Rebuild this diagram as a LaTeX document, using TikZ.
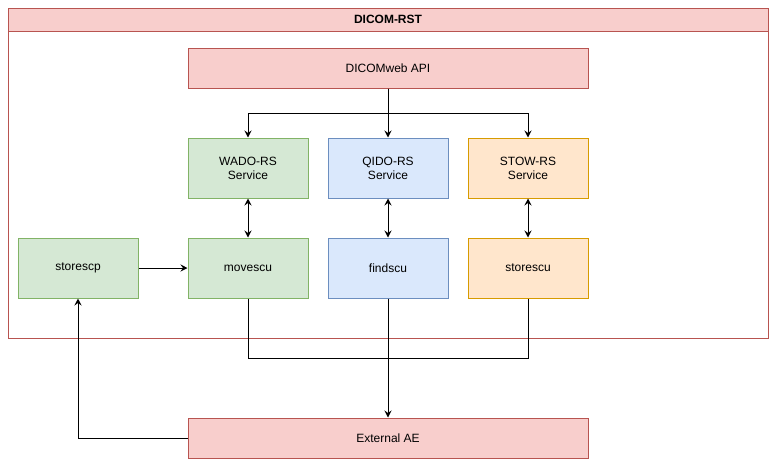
\documentclass[tikz,border=0pt]{standalone}
\usepackage{fontspec}
\setmainfont{Liberation Sans}
\usetikzlibrary{arrows.meta}
\definecolor{redF}{HTML}{F8CECC}\definecolor{redS}{HTML}{B85450}
\definecolor{grnF}{HTML}{D5E8D4}\definecolor{grnS}{HTML}{82B366}
\definecolor{bluF}{HTML}{DAE8FC}\definecolor{bluS}{HTML}{6C8EBF}
\definecolor{orgF}{HTML}{FFE6CC}\definecolor{orgS}{HTML}{D79B00}
\tikzset{
  box/.style={draw, line width=1pt, minimum width=120pt, minimum height=60pt, inner sep=0pt, align=center, font=\fontsize{12}{14}\selectfont},
  redbox/.style={box, fill=redF, draw=redS},
  grnbox/.style={box, fill=grnF, draw=grnS},
  blubox/.style={box, fill=bluF, draw=bluS},
  orgbox/.style={box, fill=orgF, draw=orgS},
  wide/.style={minimum width=400pt, minimum height=40pt},
  conn/.style={line width=1pt, draw=black},
  arr/.style={conn, -{Stealth[length=7pt,width=7pt,inset=2.5pt]}},
  darr/.style={conn, {Stealth[length=7pt,width=7pt,inset=2.5pt]}-{Stealth[length=7pt,width=7pt,inset=2.5pt]}},
}
\begin{document}
\begin{tikzpicture}[x=1pt,y=-1pt]
\useasboundingbox (0,0) rectangle (777,467);
\node[draw=redS, line width=1pt, fill=white, minimum width=760pt, minimum height=330pt, inner sep=0pt] (outer) at (388,173) {};
\node[draw=redS, fill=redF, line width=1pt, minimum width=760pt, minimum height=23pt, inner sep=0pt, font=\bfseries\fontsize{12}{14}\selectfont] (title) at (388,19.5) {DICOM-RST};
\node[redbox, wide] (api) at (388,68) {DICOMweb API};
\node[grnbox] (wado) at (248,168) {WADO-RS\\Service};
\node[blubox] (qido) at (388,168) {QIDO-RS\\Service};
\node[orgbox] (stow) at (528,168) {STOW-RS\\Service};
\node[grnbox] (storescp) at (78,268) {storescp};
\node[grnbox] (movescu) at (248,268) {movescu};
\node[blubox] (findscu) at (388,268) {findscu};
\node[orgbox] (storescu) at (528,268) {storescu};
\node[redbox, wide] (ext) at (388,438) {External AE};
\draw[arr] (api.south) -- (qido.north);
\draw[arr] (api.south) -- ++(0,25) -| (wado.north);
\draw[arr] (api.south) -- ++(0,25) -| (stow.north);
\draw[darr] (wado.south) -- (movescu.north);
\draw[darr] (qido.south) -- (findscu.north);
\draw[darr] (stow.south) -- (storescu.north);
\draw[arr] (storescp.east) -- (movescu.west);
\draw[conn] (movescu.south) -- ++(0,60) -| (storescu.south);
\draw[arr] (findscu.south) -- (ext.north);
\draw[arr] (ext.west) -| (storescp.south);
\end{tikzpicture}
\end{document}
